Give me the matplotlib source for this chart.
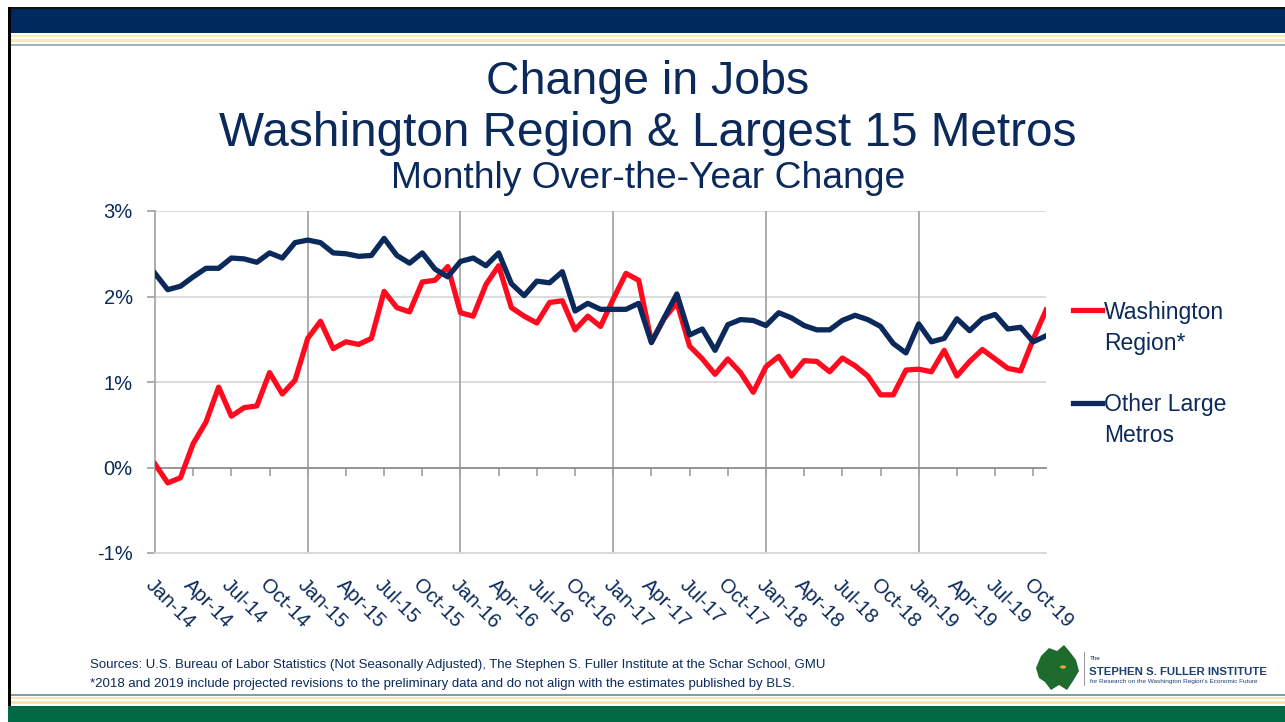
import matplotlib.pyplot as plt
from matplotlib.lines import Line2D
from matplotlib.patches import Rectangle, Polygon, Circle
from matplotlib.ticker import FuncFormatter

plt.rcParams['font.family'] = ['Liberation Sans', 'DejaVu Sans']

# monthly over-the-year job change (%), Jan-14 .. Nov-19
washington = [0.04, -0.18, -0.12, 0.28, 0.53, 0.94, 0.60, 0.70, 0.72, 1.11, 0.86, 1.02,
              1.51, 1.71, 1.39, 1.47, 1.44, 1.51, 2.06, 1.87, 1.82, 2.17, 2.19, 2.35,
              1.81, 1.77, 2.14, 2.36, 1.87, 1.77, 1.69, 1.93, 1.95, 1.61, 1.77, 1.65,
              1.97, 2.27, 2.19, 1.47, 1.74, 1.93, 1.42, 1.27, 1.09, 1.27, 1.11, 0.88,
              1.18, 1.30, 1.07, 1.25, 1.24, 1.12, 1.28, 1.19, 1.07, 0.85, 0.85, 1.14,
              1.15, 1.12, 1.37, 1.07, 1.24, 1.38, 1.27, 1.16, 1.13, 1.50, 1.84]
other_metros = [2.27, 2.08, 2.12, 2.23, 2.33, 2.33, 2.45, 2.44, 2.40, 2.51, 2.45, 2.63,
                2.66, 2.63, 2.51, 2.50, 2.47, 2.48, 2.68, 2.48, 2.39, 2.51, 2.32, 2.23,
                2.41, 2.45, 2.36, 2.51, 2.15, 2.01, 2.18, 2.16, 2.29, 1.83, 1.92, 1.85,
                1.85, 1.85, 1.92, 1.46, 1.75, 2.03, 1.55, 1.62, 1.37, 1.67, 1.73, 1.72,
                1.66, 1.81, 1.75, 1.66, 1.61, 1.61, 1.72, 1.78, 1.73, 1.65, 1.45, 1.34,
                1.68, 1.47, 1.51, 1.74, 1.60, 1.74, 1.79, 1.62, 1.64, 1.47, 1.54]
tick_labels = ['Jan-14', 'Apr-14', 'Jul-14', 'Oct-14', 'Jan-15', 'Apr-15', 'Jul-15', 'Oct-15',
               'Jan-16', 'Apr-16', 'Jul-16', 'Oct-16', 'Jan-17', 'Apr-17', 'Jul-17', 'Oct-17',
               'Jan-18', 'Apr-18', 'Jul-18', 'Oct-18', 'Jan-19', 'Apr-19', 'Jul-19', 'Oct-19']
y_ticks = [-1, 0, 1, 2, 3]

NAVY = '#0b2a5b'
RED = '#ff0a1e'
W, H = 1285, 722

months = list(range(len(washington)))
tick_pos = months[::3]
year_pos = months[::12]

fig = plt.figure(figsize=(W / 100, H / 100), dpi=100)


def band(x0, y0, x1, y1, color):
    # slide decoration, given in pixels from top-left
    fig.add_artist(Rectangle((x0 / W, 1 - y1 / H), (x1 - x0) / W, (y1 - y0) / H,
                             color=color, lw=0, transform=fig.transFigure))


# slide frame
band(8, 7, W, 9, '#111111')
band(8, 9, W, 33, '#002a5e')
band(10, 35, W, 37, '#f4ecb8')
band(10, 39, W, 42, '#f4ecb8')
band(10, 44, W, 46, '#a7b1bb')
band(8, 7, 11, 706, '#000000')
band(11, 694, W, 696, '#7f9ea8')
band(11, 697, W, 699, '#f6e4b0')
band(11, 701, W, 704, '#f6e4b0')
band(8, 706, W, H, '#006a44')

# titles
fig.text(0.504, 1 - 94 / H, 'Change in Jobs', ha='center', va='baseline', fontsize=33.5, color=NAVY)
fig.text(0.504, 1 - 146 / H, 'Washington Region & Largest 15 Metros', ha='center', va='baseline',
         fontsize=34.4, color=NAVY)
fig.text(0.504, 1 - 188 / H, 'Monthly Over-the-Year Change', ha='center', va='baseline',
         fontsize=26.8, color=NAVY)

ax = fig.add_axes([155 / W, 1 - 553 / H, (1046 - 155) / W, (553 - 211) / H])
ax.set_xlim(0, months[-1])
ax.set_ylim(y_ticks[0], y_ticks[-1])

for y in y_ticks:
    if y != 0:
        ax.axhline(y, color='#d9d9d9', lw=1.3, zorder=0)
for x in year_pos[1:]:
    ax.axvline(x, color='#a6a6a6', lw=1.3, zorder=0)

ax.plot(months, washington, color=RED, lw=3.8, zorder=3)
ax.plot(months, other_metros, color=NAVY, lw=3.8, zorder=4)

for s in ['top', 'right']:
    ax.spines[s].set_visible(False)
ax.spines['left'].set_color('#a6a6a6')
ax.spines['left'].set_linewidth(1.3)
ax.spines['bottom'].set_color('#d9d9d9')
ax.spines['bottom'].set_linewidth(1.3)

ax.set_yticks(y_ticks)
ax.yaxis.set_major_formatter(FuncFormatter(lambda v, p: f'{v:.0f}%'))
ax.tick_params(axis='y', length=6, width=1.3, color='#a6a6a6', labelcolor=NAVY,
               labelsize=14.5, pad=10)

ax.set_xticks(tick_pos)
ax.set_xticklabels(tick_labels)
ax.tick_params(axis='x', length=0, labelcolor=NAVY, labelsize=14.5, pad=16)
plt.setp(ax.get_xticklabels(), rotation=-45, ha='left', va='top', rotation_mode='anchor')

# horizontal axis line sits at 0%
zero_pos = (0 - y_ticks[0]) / (y_ticks[-1] - y_ticks[0])
sec = ax.secondary_xaxis(zero_pos)
sec.set_xticks(tick_pos)
sec.tick_params(axis='x', length=6, width=1.3, color='#a6a6a6', labelbottom=False, labeltop=False)
for s in sec.spines.values():
    s.set_color('#8c8c8c')
    s.set_linewidth(1.3)

# legend
fig.add_artist(Line2D([1073 / W, 1102 / W], [1 - 310 / H] * 2, color=RED, lw=3.8))
fig.add_artist(Line2D([1073 / W, 1102 / W], [1 - 403 / H] * 2, color=NAVY, lw=3.8))
for txt, yb in [('Washington', 319), ('Region*', 350), ('Other Large', 411), ('Metros', 442)]:
    fig.text(1104 / W, 1 - yb / H, txt, ha='left', va='baseline', fontsize=16.5, color=NAVY)

# footnotes
fig.text(90 / W, 1 - 668 / H,
         'Sources: U.S. Bureau of Labor Statistics (Not Seasonally Adjusted), '
         'The Stephen S. Fuller Institute at the Schar School, GMU',
         ha='left', va='baseline', fontsize=9.5, color=NAVY)
fig.text(90 / W, 1 - 687 / H,
         '*2018 and 2019 include projected revisions to the preliminary data and do not '
         'align with the estimates published by BLS.',
         ha='left', va='baseline', fontsize=9.5, color=NAVY)

# institute logo
blob = [(1036, 668), (1041, 656), (1049, 648), (1057, 651), (1064, 645), (1070, 652),
        (1076, 660), (1079, 671), (1073, 681), (1067, 690), (1059, 685), (1051, 690),
        (1045, 682), (1039, 678)]
fig.add_artist(Polygon([(x / W, 1 - y / H) for x, y in blob], closed=True,
                       color='#1f6b2e', lw=0, transform=fig.transFigure))
fig.add_artist(Circle((1063 / W, 1 - 667 / H), 3 / W, color='#e8a33a', lw=0,
                      transform=fig.transFigure))
band(1084, 652, 1085, 686, '#9a9a9a')
fig.text(1090 / W, 1 - 660 / H, 'The', fontsize=4.5, color=NAVY, va='baseline')
fig.text(1089 / W, 1 - 675 / H, 'STEPHEN S. FULLER INSTITUTE', fontsize=8.2, fontweight='bold',
         color='#1d3f73', va='baseline')
fig.text(1090 / W, 1 - 683 / H, "for Research on the Washington Region's Economic Future",
         fontsize=4.6, color='#1d3f73', va='baseline')

fig.savefig('out.png', dpi=100)
